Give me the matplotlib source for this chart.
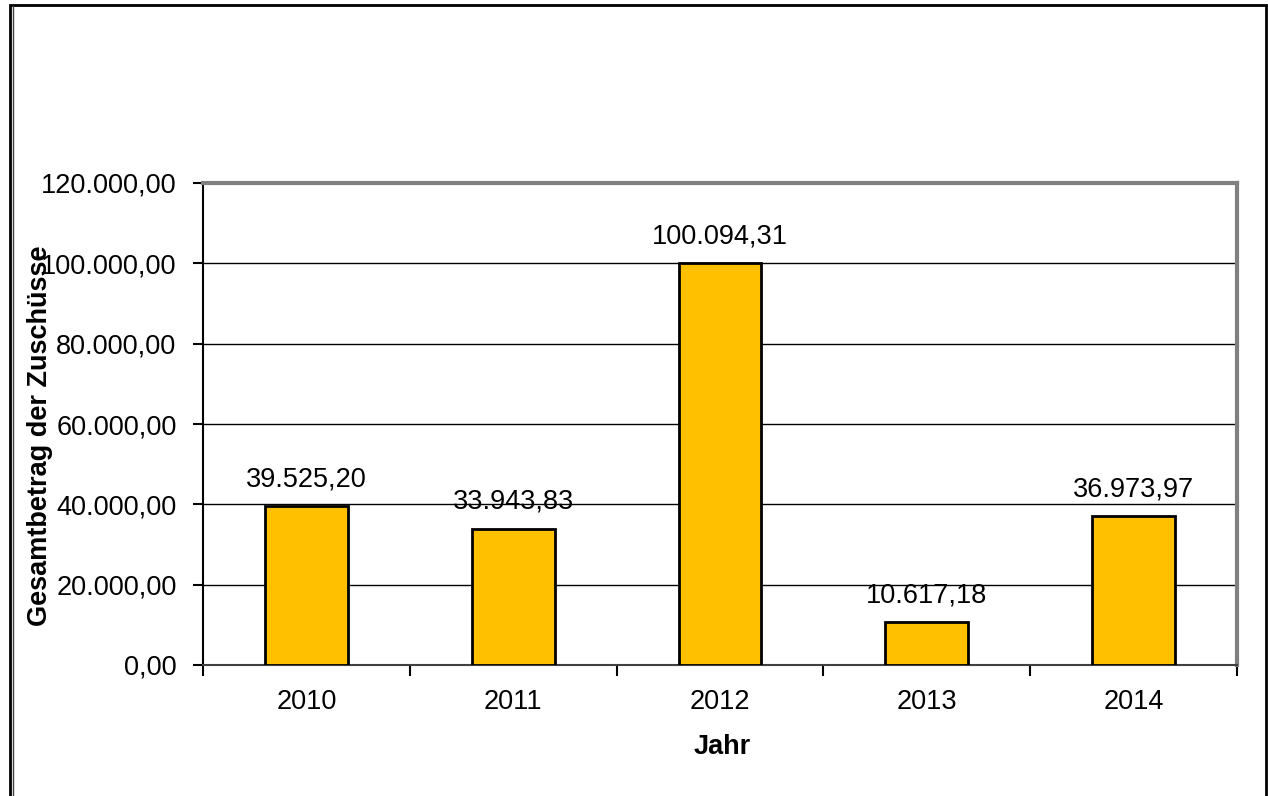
import matplotlib
matplotlib.use("Agg")
import matplotlib.pyplot as plt
from matplotlib.ticker import FuncFormatter, FixedLocator
from matplotlib.patches import Rectangle
from matplotlib.lines import Line2D

years = ["2010", "2011", "2012", "2013", "2014"]
values = [39525.20, 33943.83, 100094.31, 10617.18, 36973.97]
y_ticks = [0, 20000, 40000, 60000, 80000, 100000, 120000]

def de_fmt(v):
    s = f"{v:,.2f}"
    return s.replace(",", "X").replace(".", ",").replace("X", ".")

plt.rcParams['font.family'] = ['Liberation Sans', 'DejaVu Sans']

fig = plt.figure(figsize=(12.68, 7.96), dpi=100)
ax = fig.add_axes([203/1268, 1 - 665/796, (1237-203)/1268, (665-183)/796])

x = list(range(len(years)))
ax.bar(x, values, width=0.4, color="#FFC000", edgecolor="black", linewidth=2, zorder=3)

ax.set_xlim(-0.5, len(years) - 0.5)
ax.set_ylim(0, 120000)
ax.set_yticks(y_ticks)
ax.yaxis.set_major_formatter(FuncFormatter(lambda v, p: de_fmt(v)))
ax.grid(axis='y', color='black', linewidth=1, zorder=0)

ax.set_xticks(x)
ax.set_xticklabels(years)
ax.xaxis.set_minor_locator(FixedLocator([i - 0.5 for i in range(len(years) + 1)]))
ax.tick_params(axis='x', which='major', length=0, pad=17, labelsize=19.5)
ax.tick_params(axis='x', which='minor', length=8, width=1.5, color='black')
ax.tick_params(axis='y', which='major', length=7, width=1.5, color='black', pad=12, labelsize=19.5)

for side in ['top', 'right']:
    ax.spines[side].set_color('#808080')
    ax.spines[side].set_linewidth(3)
ax.spines['left'].set_color('black')
ax.spines['left'].set_linewidth(1.5)
ax.spines['bottom'].set_color('#404040')
ax.spines['bottom'].set_linewidth(1.5)

for xi, v in zip(x, values):
    ax.annotate(de_fmt(v), (xi, v), xytext=(0, 10), textcoords='offset points',
                ha='center', va='bottom', fontsize=19.5)

ax.set_xlabel("Jahr", fontsize=19.5, fontweight='bold')
ax.xaxis.set_label_coords(722/1268, 1 - 747/796, transform=fig.transFigure)
ax.xaxis.label.set_va('center')
ax.set_ylabel("Gesamtbetrag der Zuschüsse", fontsize=19.5, fontweight='bold')
ax.yaxis.set_label_coords(40/1268, 1 - 436/796, transform=fig.transFigure)
ax.yaxis.label.set_va('center')

# outer frame
fig.patches.append(Rectangle((10/1268, -0.05), (1266-10)/1268, 1.05 - 5/796,
                             transform=fig.transFigure, fill=False,
                             edgecolor='black', linewidth=2, zorder=0))
fig.lines.append(Line2D([12.5/1268, 12.5/1268], [0, 1 - 6/796], transform=fig.transFigure,
                        color='#404040', linewidth=1))

fig.savefig("out.png", dpi=100)
